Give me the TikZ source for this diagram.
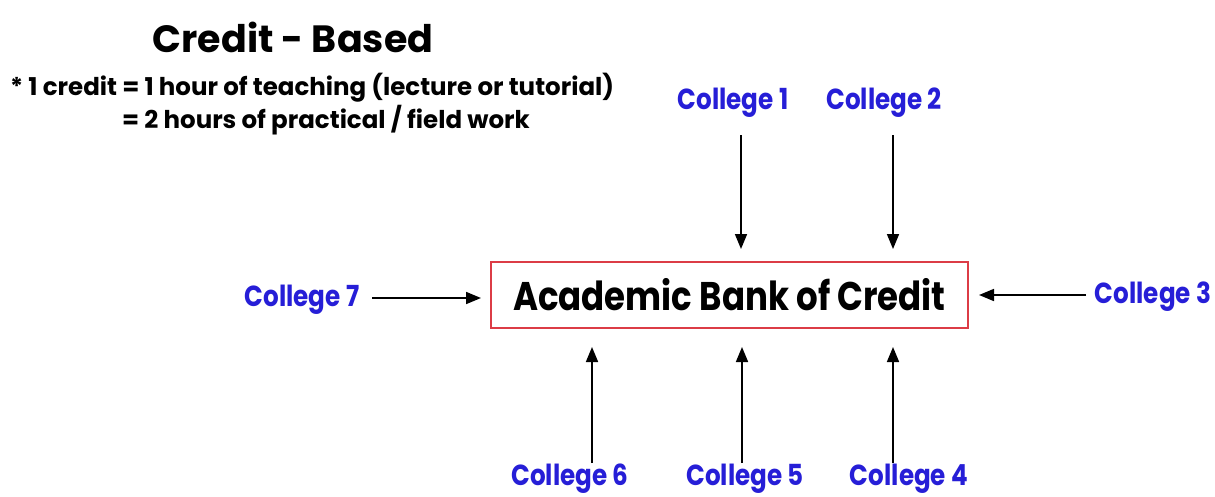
\documentclass[tikz,border=0pt]{standalone}
\usepackage{fontspec}
\setmainfont{Poppins}[FakeStretch=0.85]
\newfontfamily\widefont{Poppins}
\usetikzlibrary{arrows.meta}
\definecolor{collblue}{RGB}{38,30,215}
\definecolor{boxred}{RGB}{220,60,70}
\tikzset{
  college/.style={font=\bfseries\fontsize{29}{32}\selectfont, text=collblue, inner sep=0pt},
  flow/.style={draw=black, line width=1.7pt, -{Triangle[length=15pt,width=12pt]}},
  bankbox/.style={draw=boxred, line width=1.5pt, minimum width=477pt, minimum height=66pt, inner sep=0pt, font=\bfseries\fontsize{40}{44}\selectfont},
  heading/.style={font=\widefont\bfseries\fontsize{38}{42}\selectfont, inner sep=0pt},
  note/.style={font=\widefont\bfseries\fontsize{24.5}{28}\selectfont, inner sep=0pt, anchor=west}
}
\begin{document}
\begin{tikzpicture}[x=1pt,y=-1pt]
\useasboundingbox[fill=white] (0,0) rectangle (1215,496);
\node[heading] (title) at (293,37) {Credit - Based};
\node[note] (n1) at (10,88) {* 1 credit = 1 hour of teaching (lecture or tutorial)};
\node[note] (n2) at (122,120) {= 2 hours of practical / field work};
\node[bankbox] (bank) at (729.5,295) {Academic Bank of Credit};
\node[college] (c1) at (733,103) {College 1};
\node[college] (c2) at (884,103) {College 2};
\node[college] (c3) at (1153,297) {College 3};
\node[college] (c4) at (909,479) {College 4};
\node[college] (c5) at (745,479) {College 5};
\node[college] (c6) at (570,479) {College 6};
\node[college] (c7) at (302,300) {College 7};
\coordinate (a1s) at (741,135); \coordinate (a1e) at (741,249);
\coordinate (a2s) at (893,135); \coordinate (a2e) at (893,249);
\draw[flow] (a1s) -- (a1e);
\draw[flow] (a2s) -- (a2e);
\coordinate (a3s) at (1086,295); \coordinate (a3e) at (979,295);
\draw[flow] (a3s) -- (a3e);
\coordinate (a7s) at (372,298); \coordinate (a7e) at (481,298);
\draw[flow] (a7s) -- (a7e);
\coordinate (a4s) at (893,463); \coordinate (a4e) at (893,347);
\coordinate (a5s) at (742,463); \coordinate (a5e) at (742,347);
\coordinate (a6s) at (592,463); \coordinate (a6e) at (592,347);
\draw[flow] (a4s) -- (a4e);
\draw[flow] (a5s) -- (a5e);
\draw[flow] (a6s) -- (a6e);
\end{tikzpicture}
\end{document}
